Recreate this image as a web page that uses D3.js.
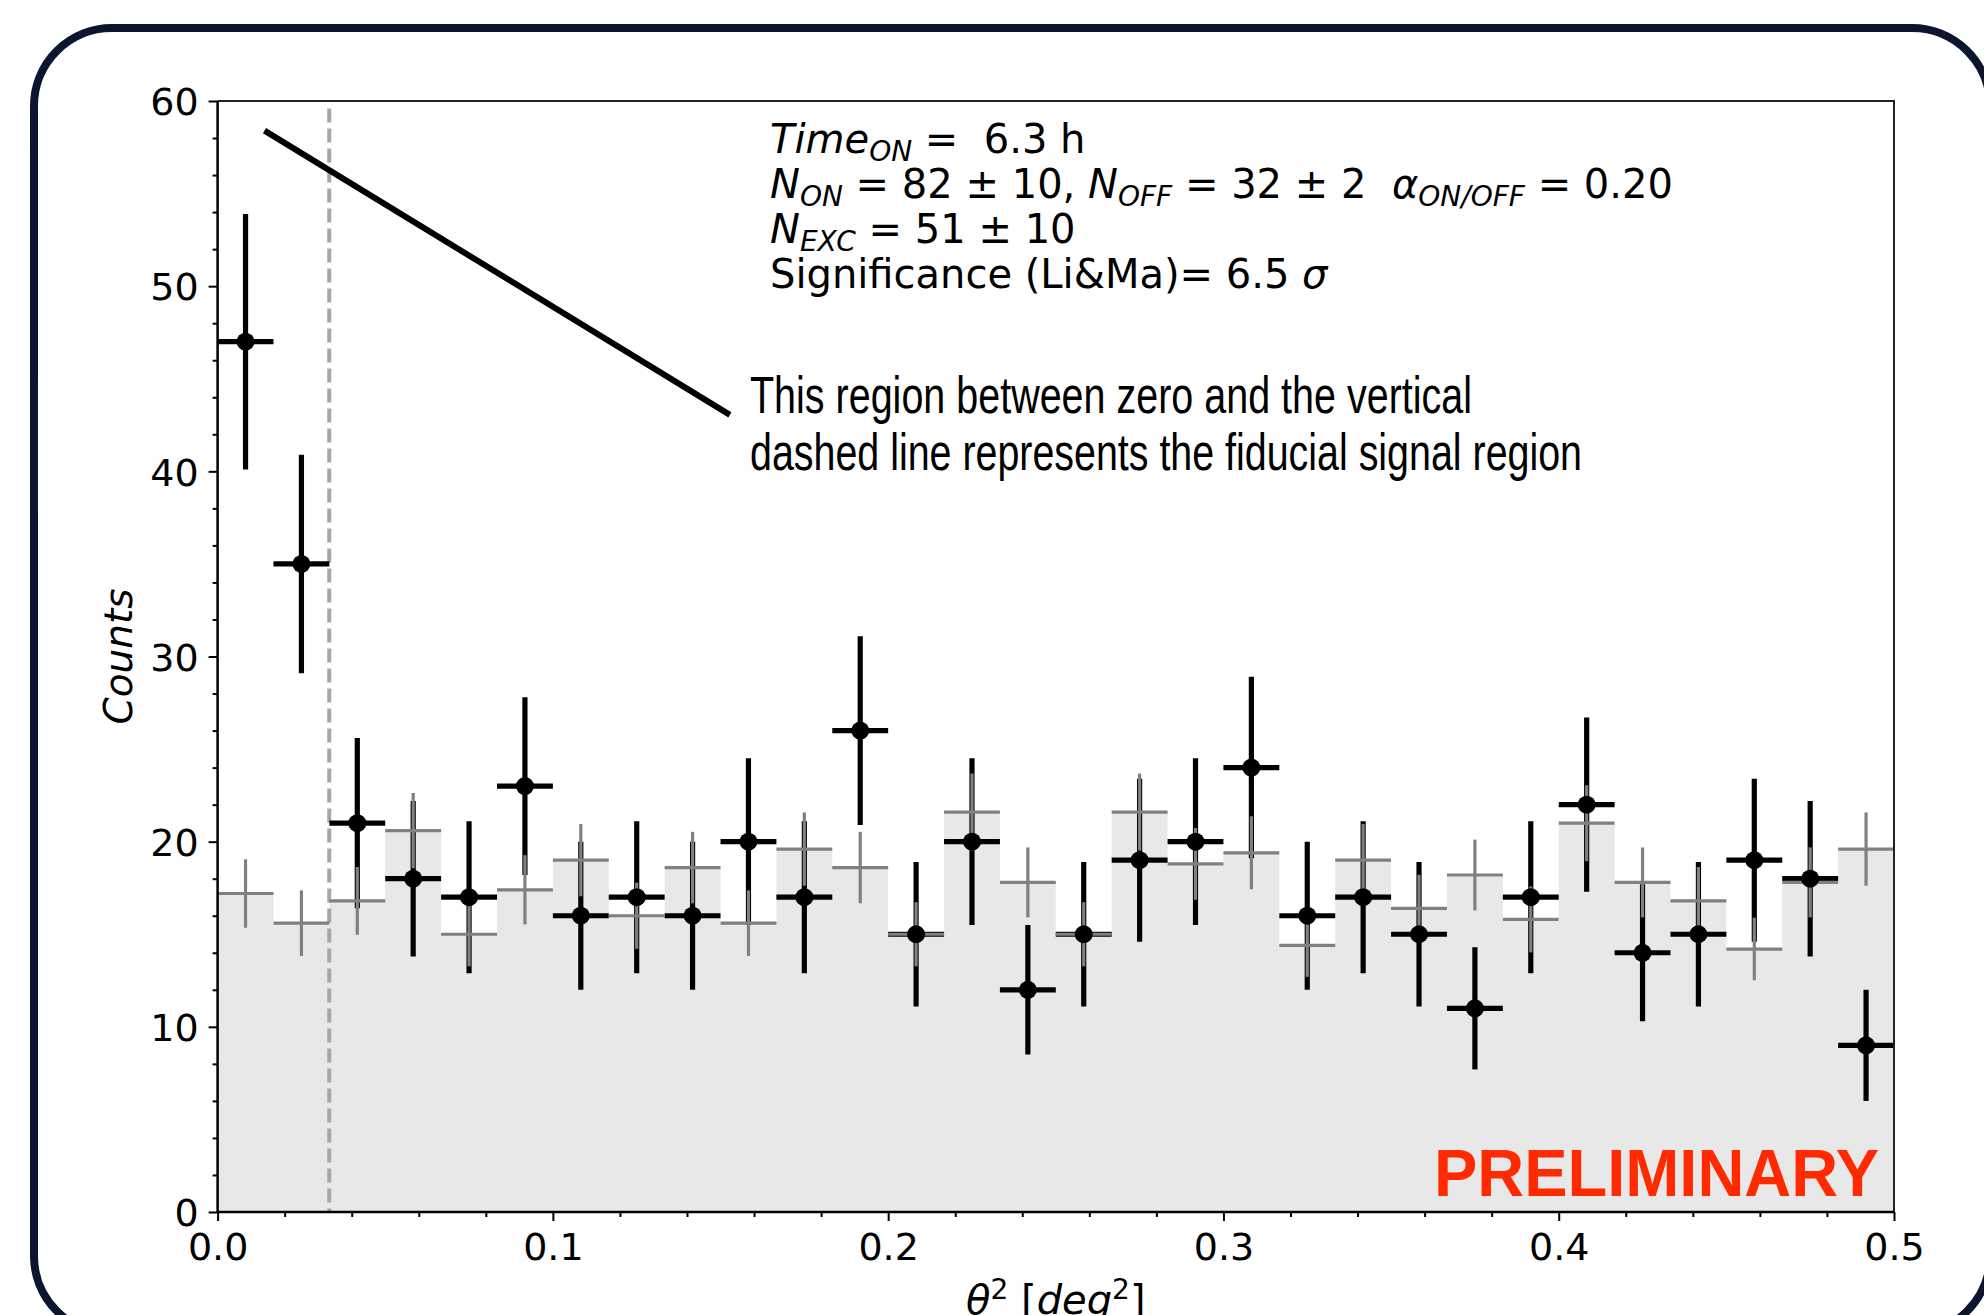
<!DOCTYPE html>
<html>
<head>
    <title>Theta2 plot</title>
    <style>
        body { margin: 0; background: #fff; }
        text { white-space: pre; }
        .tick text { font-family: "DejaVu Sans", sans-serif; font-size: 38px; fill: #000; }
    </style>
</head>
<body>
    <div id="chart"></div>
    <script src="https://d3js.org/d3.v7.min.js"></script>
    <script>
        // Histogram data, 30 bins between 0 and 0.5 deg^2
        const binWidth = 0.5 / 30;
        const binLo = d3.range(30).map(i => i * binWidth);
        const onCounts = [47, 35, 21, 18, 17, 23, 16, 17, 16, 20, 17, 26, 15, 20, 12,
                          15, 19, 20, 24, 16, 17, 15, 11, 17, 22, 14, 15, 19, 18, 9];
        const onErr = [6.9, 5.9, 4.6, 4.2, 4.1, 4.8, 4.0, 4.1, 4.0, 4.5, 4.1, 5.1, 3.9, 4.5, 3.5,
                       3.9, 4.4, 4.5, 4.9, 4.0, 4.1, 3.9, 3.3, 4.1, 4.7, 3.7, 3.9, 4.4, 4.2, 3.0];
        const offCounts = [17.2, 15.6, 16.8, 20.6, 15.0, 17.4, 19.0, 16.0, 18.6, 15.6, 19.6, 18.6, 15.0, 21.6, 17.8,
                           15.0, 21.6, 18.8, 19.4, 14.4, 19.0, 16.4, 18.2, 15.8, 21.0, 17.8, 16.8, 14.2, 17.8, 19.6];
        const offErr = [1.85, 1.77, 1.83, 2.03, 1.73, 1.87, 1.95, 1.79, 1.93, 1.77, 1.98, 1.93, 1.73, 2.08, 1.89,
                        1.73, 2.08, 1.94, 1.97, 1.70, 1.95, 1.81, 1.91, 1.78, 2.05, 1.89, 1.83, 1.69, 1.89, 1.98];

        const xTicks = [0, 0.1, 0.2, 0.3, 0.4, 0.5];
        const yTicks = [0, 10, 20, 30, 40, 50, 60];
        const cutTheta2 = 0.0333;
        // annotation arrow, in data coordinates
        const arrowFrom = [0.01399, 58.4];
        const arrowTo = [0.1528, 43.05];

        const W = 1984, H = 1315;
        const pL = 217.6, pR = 1894, pT = 101, pB = 1212;

        const svg = d3.select("#chart").append("svg")
            .attr("width", W)
            .attr("height", H);

        // rounded frame around everything
        svg.append("rect")
            .attr("x", 34).attr("y", 28)
            .attr("width", 1956).attr("height", 1306)
            .attr("rx", 78).attr("ry", 78)
            .attr("fill", "#fff")
            .attr("stroke", "#0b1530")
            .attr("stroke-width", 8);

        const x = d3.scaleLinear().domain([0, 0.5]).range([pL, pR]);
        const y = d3.scaleLinear().domain([0, 60]).range([pB, pT]);

        const bins = binLo.map((lo, i) => ({
            lo: lo, hi: lo + binWidth, mid: lo + binWidth / 2,
            on: onCounts[i], onE: onErr[i], off: offCounts[i], offE: offErr[i]
        }));

        // OFF histogram as filled steps
        const stepPts = bins.map(b => [b.lo, b.off]).concat([[0.5, offCounts[offCounts.length - 1]]]);
        svg.append("path")
            .datum(stepPts)
            .attr("fill", "#e8e8e8")
            .attr("d", d3.area().curve(d3.curveStepAfter)
                .x(d => x(d[0])).y0(y(0)).y1(d => y(d[1])));

        // fiducial cut
        svg.append("line")
            .attr("x1", x(cutTheta2)).attr("x2", x(cutTheta2))
            .attr("y1", y(59.6)).attr("y2", y(0))
            .attr("stroke", "#a6a6a6").attr("stroke-width", 4)
            .attr("stroke-dasharray", "14,6");

        // ON error bars
        const on = svg.append("g").attr("stroke", "#000").attr("stroke-width", 5.2);
        on.selectAll(".v").data(bins).join("line").attr("class", "v")
            .attr("x1", d => x(d.mid)).attr("x2", d => x(d.mid))
            .attr("y1", d => y(d.on - d.onE)).attr("y2", d => y(d.on + d.onE));
        on.selectAll(".h").data(bins).join("line").attr("class", "h")
            .attr("x1", d => x(d.lo)).attr("x2", d => x(d.hi))
            .attr("y1", d => y(d.on)).attr("y2", d => y(d.on));

        // OFF error bars
        const off = svg.append("g").attr("stroke", "#808080").attr("stroke-width", 3.2);
        off.selectAll(".v").data(bins).join("line").attr("class", "v")
            .attr("x1", d => x(d.mid)).attr("x2", d => x(d.mid))
            .attr("y1", d => y(d.off - d.offE)).attr("y2", d => y(d.off + d.offE));
        off.selectAll(".h").data(bins).join("line").attr("class", "h")
            .attr("x1", d => x(d.lo)).attr("x2", d => x(d.hi))
            .attr("y1", d => y(d.off)).attr("y2", d => y(d.off));

        // ON markers
        svg.append("g").selectAll("circle").data(bins).join("circle")
            .attr("cx", d => x(d.mid)).attr("cy", d => y(d.on))
            .attr("r", 9).attr("fill", "#000");

        // axes
        const yAxis = svg.append("g").attr("transform", `translate(${pL},0)`)
            .call(d3.axisLeft(y).tickValues(yTicks).tickSize(9).tickPadding(10).tickFormat(d3.format("d")));
        svg.append("g").attr("transform", `translate(${pL},0)`)
            .call(d3.axisLeft(y).tickValues(d3.range(0, 61, 2).filter(v => v % 10)).tickSize(5).tickFormat(""))
            .select(".domain").remove();
        const xAxis = svg.append("g").attr("transform", `translate(0,${pB})`)
            .call(d3.axisBottom(x).tickValues(xTicks).tickSize(9).tickPadding(12).tickFormat(d3.format(".1f")));
        svg.append("g").attr("transform", `translate(0,${pB})`)
            .call(d3.axisBottom(x).tickValues(d3.range(1, 25).map(i => i * 0.02).filter((v, i) => (i + 1) % 5)).tickSize(5).tickFormat(""))
            .select(".domain").remove();
        svg.selectAll(".tick line").attr("stroke", "#000").attr("stroke-width", 2);
        yAxis.select(".domain").attr("stroke", "#000").attr("stroke-width", 2.5).attr("d", `M0,${pT}V${pB}`);
        xAxis.select(".domain").attr("stroke", "#000").attr("stroke-width", 2.5).attr("d", `M${pL},0H${pR}`);
        yAxis.selectAll(".tick text").attr("dy", "0.36em");

        // top and right spines
        svg.append("path")
            .attr("d", `M${pL},${pT}H${pR}V${pB}`)
            .attr("fill", "none").attr("stroke", "#222").attr("stroke-width", 2);

        // rich text helper: segments [text, kind] kind: n normal, i italic, s italic subscript, u superscript
        function richText(px, py, segs, size) {
            const t = svg.append("text")
                .attr("x", px).attr("y", py)
                .attr("font-family", "DejaVu Sans, sans-serif")
                .attr("font-size", size).attr("fill", "#000");
            let shift = 0;
            segs.forEach(([str, kind]) => {
                let target = 0, fs = size, style = "normal";
                if (kind === "i") style = "italic";
                if (kind === "s") { target = size * 0.2; fs = size * 0.7; style = "italic"; }
                if (kind === "u") { target = -size * 0.38; fs = size * 0.7; }
                t.append("tspan")
                    .attr("dy", target - shift)
                    .attr("font-size", fs)
                    .attr("font-style", style)
                    .text(str);
                shift = target;
            });
            return t;
        }

        const statsLines = [
            [["Time", "i"], ["ON", "s"], [" =  6.3 h", "n"]],
            [["N", "i"], ["ON", "s"], [" = 82 \u00b1 10, ", "n"], ["N", "i"], ["OFF", "s"], [" = 32 \u00b1 2  ", "n"],
             ["\u03b1", "i"], ["ON/OFF", "s"], [" = 0.20", "n"]],
            [["N", "i"], ["EXC", "s"], [" = 51 \u00b1 10", "n"]],
            [["Significance (Li&Ma)= 6.5 ", "n"], ["\u03c3", "i"]]
        ];
        statsLines.forEach((segs, i) => richText(770, 153 + i * 45, segs, 40));

        // y label
        svg.append("text")
            .attr("transform", `translate(132,${(pT + pB) / 2}) rotate(-90)`)
            .attr("text-anchor", "middle")
            .attr("font-family", "DejaVu Sans, sans-serif")
            .attr("font-style", "italic")
            .attr("font-size", 39)
            .text("Counts");

        // x label
        richText(0, 1314, [["\u03b8", "i"], ["2", "u"], [" [", "n"], ["deg", "i"], ["2", "u"], ["]", "n"]], 40)
            .attr("x", (pL + pR) / 2).attr("text-anchor", "middle");

        // callout
        svg.append("line")
            .attr("x1", x(arrowFrom[0])).attr("y1", y(arrowFrom[1]))
            .attr("x2", x(arrowTo[0])).attr("y2", y(arrowTo[1]))
            .attr("stroke", "#000").attr("stroke-width", 6);
        const callout = ["This region between zero and the vertical",
                         "dashed line represents the fiducial signal region"];
        const calloutLen = [722, 832];
        callout.forEach((s, i) => {
            svg.append("text")
                .attr("x", 750).attr("y", 413 + i * 57)
                .attr("font-family", "Liberation Sans, Arial, sans-serif")
                .attr("font-size", 52)
                .attr("textLength", calloutLen[i])
                .attr("lengthAdjust", "spacingAndGlyphs")
                .text(s);
        });

        svg.append("text")
            .attr("x", 1434).attr("y", 1196)
            .attr("font-family", "Liberation Sans, Arial, sans-serif")
            .attr("font-weight", "bold")
            .attr("font-size", 66)
            .attr("fill", "#ff2a00")
            .attr("textLength", 445)
            .attr("lengthAdjust", "spacingAndGlyphs")
            .text("PRELIMINARY");
    </script>
</body>
</html>
